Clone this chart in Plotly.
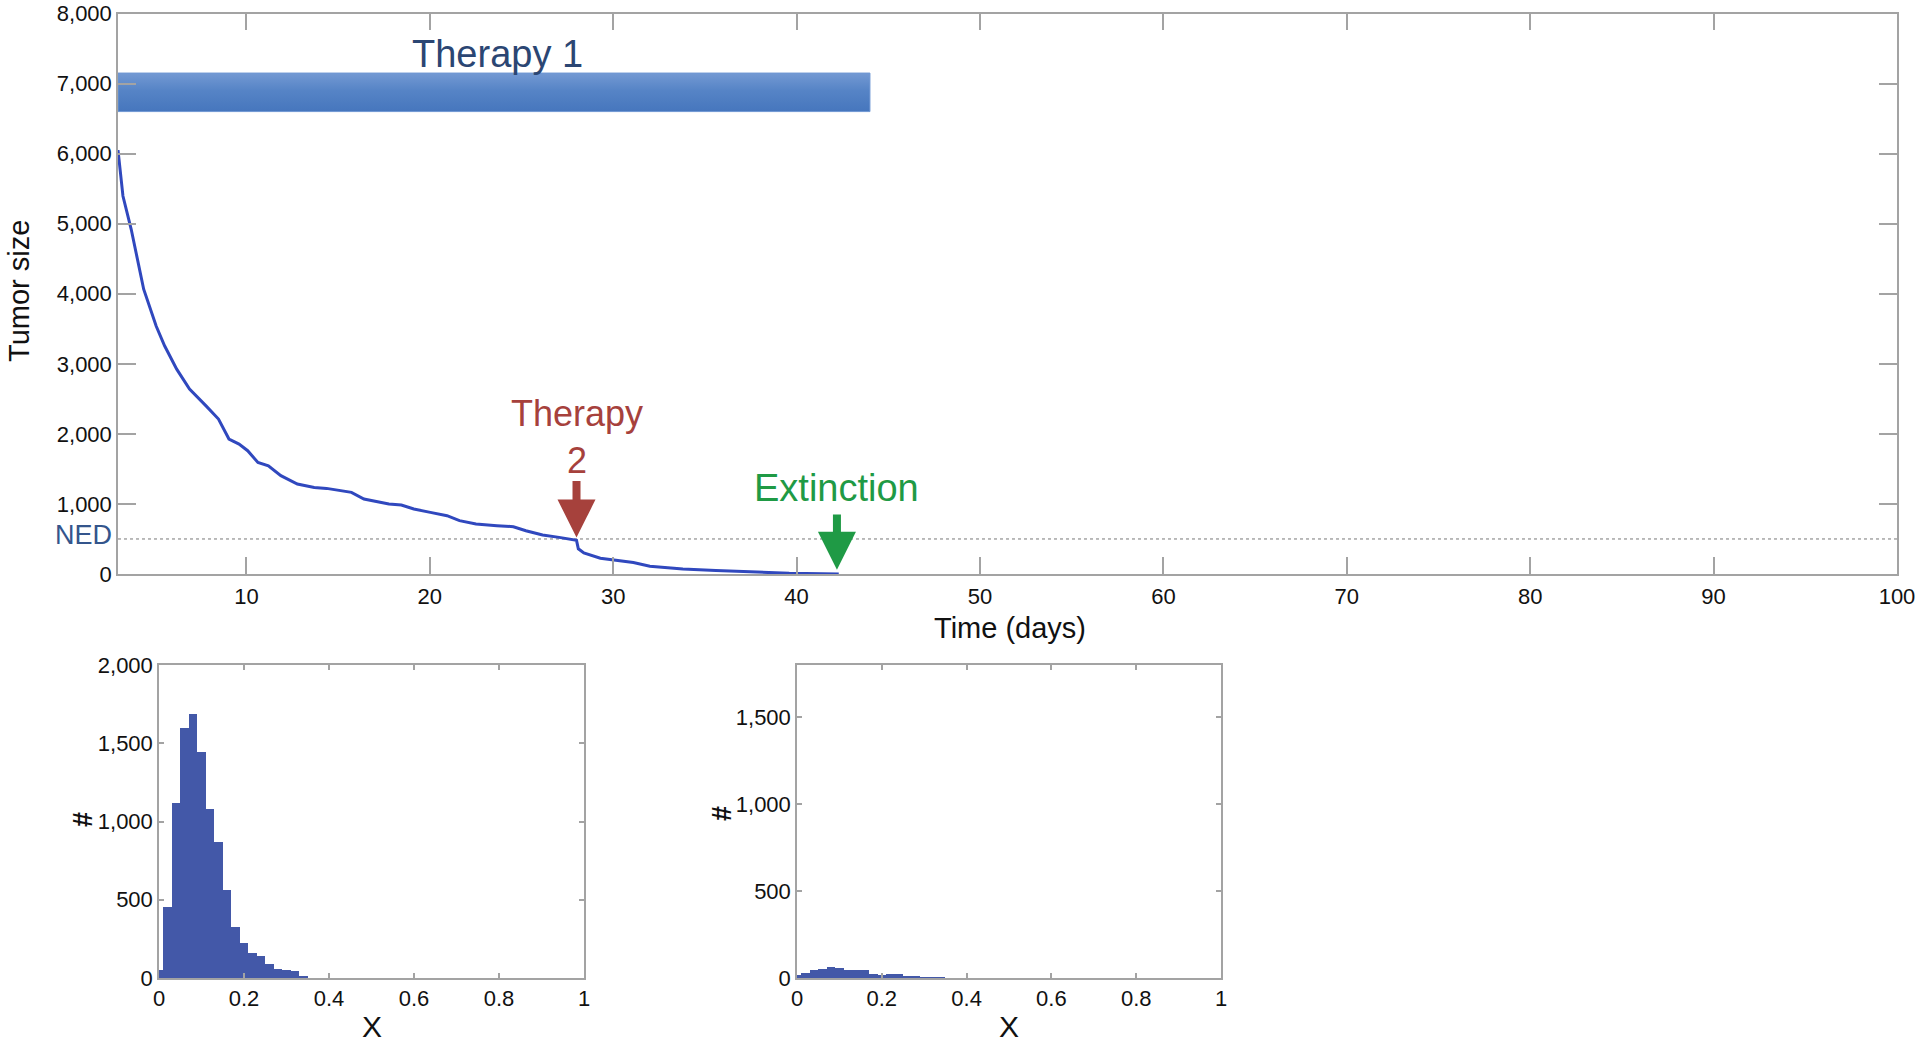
import plotly.graph_objects as go

# ---------------- data ----------------
time_days = [3.0, 3.27, 3.72, 4.4, 5.08, 5.54, 6.2, 6.9, 7.8, 8.48, 9.05, 9.6, 10.07, 10.63,
             11.2, 11.88, 12.78, 13.7, 14.37, 15.05, 15.73, 16.41, 17.3, 17.77, 18.45, 19.13,
             20.03, 20.94, 21.62, 22.52, 23.66, 24.56, 25.24, 26.15, 27.05, 27.85, 28.0, 28.1,
             28.4, 29.3, 30.0, 31.1, 32.0, 33.8, 35.6, 37.5, 39.3, 39.6, 42.3]
tumor_size = [6050, 5395, 4920, 4065, 3540, 3257, 2924, 2640, 2400, 2211, 1926, 1855, 1760, 1593,
              1545, 1403, 1284, 1236, 1222, 1189, 1165, 1070, 1022, 999, 984, 927,
              880, 832, 761, 713, 690, 675, 618, 556, 523, 490, 480, 360,
              300, 225, 200, 165, 112, 73, 49, 29, 15, 10, 0]

therapy1_days = [3, 44]
therapy1_band = [6600, 7150]
therapy2_day = 28.0
extinction_day = 42.2
ned_level = 500

main_yticks = [0, 1000, 2000, 3000, 4000, 5000, 6000, 7000, 8000]
main_yticktext = ["0", "1,000", "2,000", "3,000", "4,000", "5,000", "6,000", "7,000", "8,000"]
main_xticks = [10, 20, 30, 40, 50, 60, 70, 80, 90, 100]

hist_bins = [0.00, 0.02, 0.04, 0.06, 0.08, 0.10, 0.12, 0.14, 0.16, 0.18,
             0.20, 0.22, 0.24, 0.26, 0.28, 0.30, 0.32, 0.34]
hist1_counts = [50, 454, 1121, 1599, 1689, 1446, 1077, 866, 563, 326,
                226, 162, 139, 92, 60, 49, 45, 8]
hist2_counts = [19, 29, 48, 54, 63, 59, 44, 44, 46, 25,
                19, 21, 21, 11, 6, 5, 4, 2]

hist_xticks = [0, 0.2, 0.4, 0.6, 0.8, 1]
hist_xticktext = ["0", "0.2", "0.4", "0.6", "0.8", "1"]
hist1_yticks = [0, 500, 1000, 1500, 2000]
hist1_yticktext = ["0", "500", "1,000", "1,500", "2,000"]
hist2_yticks = [0, 500, 1000, 1500]
hist2_yticktext = ["0", "500", "1,000", "1,500"]

# ---------------- styling ----------------
W, H = 1920, 1046
FONT = "Liberation Sans, Arial, Helvetica, sans-serif"
AX = "#a3a3a3"
LINE_BLUE = "rgb(48,72,190)"
BAR_BLUE = "rgb(67,88,168)"

def px(x):
    return x / W

def py(y):
    return 1 - y / H

fig = go.Figure()

# Therapy 1 band
fig.add_trace(go.Scatter(
    x=[therapy1_days[0], therapy1_days[1], therapy1_days[1], therapy1_days[0], therapy1_days[0]],
    y=[therapy1_band[0], therapy1_band[0], therapy1_band[1], therapy1_band[1], therapy1_band[0]],
    mode="lines", fill="toself",
    line=dict(color="#6f97d3", width=1),
    fillgradient=dict(type="vertical",
                      colorscale=[[0, "#4676bd"], [0.55, "#5684c6"], [1, "#7399d3"]]),
    hoverinfo="skip", showlegend=False, xaxis="x", yaxis="y"))

# NED line
fig.add_trace(go.Scatter(
    x=[3, 100], y=[ned_level, ned_level], mode="lines",
    line=dict(color="#777777", width=1, dash="dot"),
    hoverinfo="skip", showlegend=False, xaxis="x", yaxis="y"))

# tumor curve
fig.add_trace(go.Scatter(
    x=time_days, y=tumor_size, mode="lines",
    line=dict(color=LINE_BLUE, width=3),
    showlegend=False, xaxis="x", yaxis="y"))

# histograms
fig.add_trace(go.Bar(x=hist_bins, y=hist1_counts, width=0.02,
                     marker=dict(color=BAR_BLUE, line=dict(width=0)),
                     showlegend=False, xaxis="x2", yaxis="y2"))
fig.add_trace(go.Bar(x=hist_bins, y=hist2_counts, width=0.02,
                     marker=dict(color=BAR_BLUE, line=dict(width=0)),
                     showlegend=False, xaxis="x3", yaxis="y3"))

common_axis = dict(showline=True, linecolor=AX, linewidth=1.5, mirror="ticks",
                   ticks="inside", tickcolor=AX, tickwidth=1.5, showgrid=False,
                   zeroline=False, automargin=False, ticklabeloverflow="allow",
                   tickfont=dict(family=FONT, size=22, color="#111111"))

main_dom_x = [px(118), px(1897)]
main_dom_y = [py(574), py(13.5)]
h1_dom_x = [px(159), px(584)]
h2_dom_x = [px(797), px(1221)]
h_dom_y = [py(978), py(665)]

fig.update_layout(
    width=W, height=H, margin=dict(l=0, r=0, t=0, b=0, autoexpand=False),
    paper_bgcolor="white", plot_bgcolor="white",
    bargap=0, font=dict(family=FONT),
    xaxis=dict(common_axis, domain=main_dom_x, range=[3, 100], tickvals=main_xticks,
               ticklen=17, anchor="y", ticklabelstandoff=2),
    yaxis=dict(common_axis, domain=main_dom_y, range=[0, 8000], tickvals=main_yticks,
               ticktext=main_yticktext, ticklen=18, anchor="x"),
    xaxis2=dict(common_axis, domain=h1_dom_x, range=[0, 1], tickvals=hist_xticks,
                ticktext=hist_xticktext, ticklen=5, anchor="y2"),
    yaxis2=dict(common_axis, domain=h_dom_y, range=[0, 2000], tickvals=hist1_yticks,
                ticktext=hist1_yticktext, ticklen=5, anchor="x2"),
    xaxis3=dict(common_axis, domain=h2_dom_x, range=[0, 1], tickvals=hist_xticks,
                ticktext=hist_xticktext, ticklen=5, anchor="y3"),
    yaxis3=dict(common_axis, domain=h_dom_y, range=[0, 1800], tickvals=hist2_yticks,
                ticktext=hist2_yticktext, ticklen=5, anchor="x3"),
)

ann = []
# axis titles
ann.append(dict(text="Tumor size", x=px(19), y=py(291), xref="paper", yref="paper",
                textangle=-90, showarrow=False, xanchor="center", yanchor="middle",
                font=dict(family=FONT, size=29, color="#111111")))
ann.append(dict(text="Time (days)", x=px(1010), y=py(628), xref="paper", yref="paper",
                showarrow=False, xanchor="center", yanchor="middle",
                font=dict(family=FONT, size=29, color="#111111")))
for xh, yh in [(83, 820), (722, 814)]:
    ann.append(dict(text="<b>#</b>", x=px(xh), y=py(yh), xref="paper", yref="paper",
                    textangle=-90, showarrow=False, xanchor="center", yanchor="middle",
                    font=dict(family=FONT, size=27, color="#111111")))
for xh in [372, 1009]:
    ann.append(dict(text="X", x=px(xh), y=py(1026), xref="paper", yref="paper",
                    showarrow=False, xanchor="center", yanchor="middle",
                    font=dict(family=FONT, size=30, color="#111111")))

# NED label
ann.append(dict(text="NED", x=px(114), y=py(535), xref="paper", yref="paper",
                showarrow=False, xanchor="right", yanchor="middle",
                font=dict(family=FONT, size=27, color="#34558c")))

# Therapy 1 label
ann.append(dict(text="Therapy 1", x=23.7, y=7420, xref="x", yref="y", showarrow=False,
                xanchor="center", yanchor="middle",
                font=dict(family=FONT, size=38, color="#2b4673")))

# Therapy 2 label + arrow
RED = "#a6413c"
ann.append(dict(text="Therapy<br>2", x=therapy2_day, y=1960, xref="x", yref="y", showarrow=False,
                xanchor="center", yanchor="middle",
                font=dict(family=FONT, size=36, color=RED)))
ann.append(dict(text="", x=therapy2_day, y=520, ax=therapy2_day, ay=1350,
                xref="x", yref="y", axref="x", ayref="y", showarrow=True,
                arrowhead=2, arrowsize=0.95, arrowwidth=8, arrowcolor=RED, standoff=0))

# Extinction label + arrow
GREEN = "#1f9a45"
ann.append(dict(text="Extinction", x=extinction_day, y=1221, xref="x", yref="y", showarrow=False,
                xanchor="center", yanchor="middle", font=dict(family=FONT, size=38, color=GREEN)))
ann.append(dict(text="", x=extinction_day, y=60, ax=extinction_day, ay=870,
                xref="x", yref="y", axref="x", ayref="y", showarrow=True,
                arrowhead=2, arrowsize=0.95, arrowwidth=8, arrowcolor=GREEN, standoff=0))

fig.update_layout(annotations=ann)

# remove the page's default body margin so the 1920x1046 figure fills the window exactly
fig.write_html("out.html", config={"displayModeBar": False},
               post_script="document.body.style.margin='0';document.body.style.overflow='hidden';")
